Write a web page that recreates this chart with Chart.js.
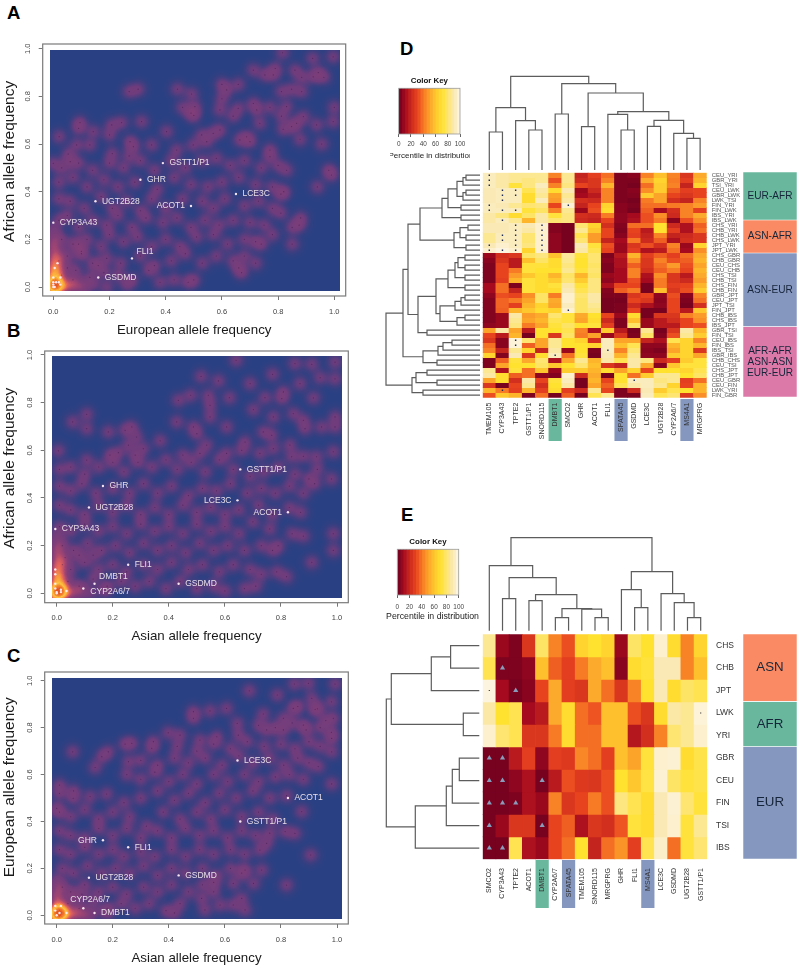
<!DOCTYPE html>
<html><head><meta charset="utf-8">
<style>html,body{margin:0;padding:0;background:#fff;width:800px;height:968px;overflow:hidden}
.letter{position:absolute;font:bold 18.5px "Liberation Sans",Arial,sans-serif;color:#000;line-height:20px}</style>
<script src="https://cdn.jsdelivr.net/npm/chart.js@4"></script>
</head><body>
<div class="letter" style="left:7px;top:3px">A</div>
<div class="letter" style="left:7px;top:321px">B</div>
<div class="letter" style="left:7px;top:646px">C</div>
<div class="letter" style="left:400px;top:39px">D</div>
<div class="letter" style="left:401px;top:505px">E</div>
<script>
// ---------- scatter data (allele frequency) ----------
const tickValues=[0,0.2,0.4,0.6,0.8,1.0];
const denseA=[[.816,.983],[.923,.959],[.996,.966],[.712,.91],[.79,.917],[.86,.91],[.753,.89],[.783,.89],[.884,.88],[.925,.882],[.943,.9],[.963,.88],[.27,.82],[.302,.83],[.442,.83],[.492,.81],[.6,.85],[.617,.827],[.658,.85],[.6,.79],[.812,.82],[.848,.83],[.884,.82],[.46,.754],[.504,.757],[.5,.72],[.49,.73],[.593,.743],[.658,.75],[.64,.717],[.712,.77],[.724,.743],[.771,.754],[.83,.757],[.812,.717],[1,.754],[.996,.694],[.89,.715],[.866,.687],[.848,.673],[.937,.68],[.735,.687],[.818,.662],[.878,.62],[.955,.6],[.095,.69],[.09,.666],[.208,.68],[.243,.69],[.314,.694],[.2,.638],[.142,.652],[.021,.631],[.403,.652],[.593,.659],[.569,.645],[.528,.638],[.546,.61],[.664,.617],[.7,.61],[.688,.63],[.771,.575],[.771,.547],[.083,.596],[.13,.596],[.285,.589],[.35,.596],[.273,.61],[.439,.575],[.498,.596],[.053,.558],[0,.519],[.06,.526],[.21,.56],[.27,.55],
[.03,.5],[.09,.52],[.14,.49],[.2,.52],[.25,.5],[.31,.53],[.36,.49],[.42,.53],[.47,.5],[.53,.53],[.58,.54],[.63,.51],[.68,.53],[.74,.5],[.8,.51],[.83,.49],[.98,.49],[.99,.47],[.94,.42],
[.02,.44],[.07,.46],[.12,.42],[.18,.45],[.23,.42],[.29,.44],[.37,.41],[.43,.46],[.49,.43],[.55,.42],[.6,.44],[.66,.46],[.72,.43],[.78,.42],[.81,.39],[.82,.4],
[.02,.37],[.06,.36],[.11,.33],[.17,.38],[.21,.33],[.26,.36],[.31,.32],[.35,.37],[.4,.33],[.46,.37],[.53,.36],[.57,.33],[.61,.37],[.68,.34],[.73,.36],[.78,.33],[.81,.31],
[.02,.28],[.05,.3],[.09,.25],[.14,.28],[.19,.26],[.23,.3],[.28,.25],[.33,.29],[.39,.27],[.44,.29],[.49,.25],[.54,.28],[.59,.26],[.64,.28],[.7,.27],[.75,.26],[.88,.29],[.85,.25],[.875,.26],
[.03,.2],[.07,.18],[.12,.2],[.17,.17],[.2,.22],[.25,.19],[.3,.21],[.35,.17],[.4,.2],[.45,.17],[.51,.21],[.57,.22],[.62,.18],[.68,.2],[.72,.19],[.74,.18],[.85,.18],[.78,.22],
[.02,.11],[.05,.13],[.1,.14],[.14,.1],[.19,.12],[.24,.1],[.31,.13],[.36,.09],[.42,.11],[.47,.14],[.53,.1],[.58,.13],[.64,.11],[.68,.13],[.72,.1],
[.03,.05],[.08,.07],[.13,.04],[.18,.06],[.23,.05],[.28,.03],[.34,.07],[.38,.02],[.43,.03],[.48,.02],[.5,.03],[.67,.06],[.66,.08],[.09,.18],[.1,.15],[.16,.09],[.05,.08],[.07,.03]];
const hotA=[[0,0,8],[.005,.005,3],[.01,.01,3],[.02,0,3],[0,.02,3],[0,.04,3],[.005,.06,3],[0,.08,3],[.01,.1,2],[0,.12,2],[.005,.15,2],[0,.18,2],[.005,.21,1],[0,.24,1],[.02,.03,2],[.03,.01,2],[.05,0,2],[.07,.01,2],[.1,0,2],[.14,.01,1],[.19,0,1],[.26,.01,1],[.02,.07,1],[.025,.13,1]];
const geneNamesA=['GSTT1/P1','GHR','UGT2B28','LCE3C','ACOT1','CYP3A43','FLI1','GSDMD'];
const geneXA=[.39,.31,.15,.65,.49,0,.28,.16];
const geneYA=[.52,.45,.36,.39,.34,.27,.12,.04];
const labelSideA=['r','r','r','r','l','r','ur','r'];
const minorDotsA=[[.015,.1],[.005,.08],[0,.04],[.025,.04],[0,.02],[.01,.02],[.02,.02],[.025,.01],[0,.01],[0,0],[.005,0]];

const denseB=[[.64,.978],[.85,.964],[.91,.961],[.993,.97],[.515,.91],[.77,.919],[.577,.891],[.69,.88],[.868,.88],[.94,.905],[.993,.9],[.916,.82],[.809,.845],[.803,.817],[.743,.821],[.616,.821],[.541,.831],[.478,.831],[.434,.81],[.547,.789],[.547,.74],[.702,.771],[.107,.751],[.057,.719],[.107,.691],[.184,.677],[.268,.698],[.244,.684],[.285,.656],[.369,.64],[.428,.719],[.488,.698],[.5,.67],[.606,.698],[.773,.74],[.844,.754],[.88,.726],[.886,.691],[.945,.698],[.993,.74],[.993,.698],[.737,.677],[.767,.663],[.672,.635],[.006,.598],[.107,.559],[.256,.622],[.309,.607],[.535,.622],[.511,.587],[.606,.587],[.832,.622],[.773,.607],[.725,.587],[.838,.573],[.987,.594],[.927,.573],[.88,.575],[.66,.6],[.45,.58],[.19,.58],[.22,.59],[.28,.58],
[.01,.52],[.05,.53],[.1,.5],[.15,.53],[.2,.55],[.24,.51],[.29,.55],[.34,.53],[.39,.56],[.43,.52],[.48,.55],[.53,.51],[.58,.56],[.63,.52],[.69,.49],[.74,.51],[.79,.53],[.85,.5],[.93,.52],[.98,.48],[.9,.48],
[.01,.45],[.05,.43],[.09,.46],[.14,.42],[.2,.44],[.26,.42],[.31,.46],[.36,.42],[.41,.45],[.47,.41],[.52,.44],[.57,.43],[.62,.46],[.68,.42],[.73,.44],[.78,.42],[.83,.45],[.88,.42],[.92,.46],
[.01,.37],[.05,.35],[.1,.33],[.15,.37],[.2,.34],[.25,.37],[.3,.33],[.35,.36],[.4,.33],[.45,.37],[.5,.34],[.55,.36],[.6,.33],[.65,.35],[.72,.37],[.77,.33],[.83,.36],[.87,.34],
[.01,.28],[.05,.26],[.1,.29],[.15,.26],[.2,.28],[.25,.25],[.3,.29],[.35,.26],[.4,.28],[.45,.25],[.5,.29],[.55,.26],[.6,.28],[.65,.25],[.7,.3],[.76,.27],[.84,.25],[.88,.24],[.987,.25],
[.02,.2],[.06,.18],[.11,.21],[.16,.18],[.21,.2],[.26,.17],[.31,.21],[.36,.18],[.41,.2],[.46,.17],[.51,.21],[.56,.18],[.61,.2],[.67,.18],[.73,.2],[.77,.18],[.79,.2],[.987,.18],
[.02,.12],[.05,.1],[.1,.13],[.15,.1],[.2,.12],[.25,.09],[.31,.12],[.36,.1],[.41,.13],[.47,.1],[.52,.12],[.58,.09],[.63,.12],[.69,.1],[.73,.08],[.91,.13],[.82,.07],[.785,.09],
[.04,.05],[.08,.03],[.13,.06],[.18,.03],[.23,.05],[.28,.03],[.33,.05],[.39,.02],[.44,.05],[.5,.02],[.56,.03],[.6,.01],[.67,.02],[.71,.03],[.08,.16],[.13,.16],[.03,.15]];
const hotB=[[0,0,9],[.005,.005,3],[.01,.01,3],[.02,0,3],[0,.02,3],[0,.04,3],[.005,.06,3],[0,.08,3],[.005,.1,2],[0,.12,2],[.005,.15,2],[0,.18,2],[.005,.21,1],[0,.24,1],[.02,.03,2],[.03,.01,2],[.05,0,2],[.08,.01,2],[.12,0,1],[.17,.01,1],[.02,.07,1],[.02,.13,1]];
const geneNamesB=['GSTT1/P1','GHR','UGT2B28','LCE3C','ACOT1','CYP3A43','FLI1','DMBT1','GSDMD','CYP2A6/7'];
const geneXB=[.655,.165,.115,.645,.825,-.005,.255,.135,.435,.095];
const geneYB=[.52,.45,.36,.39,.34,.27,.12,.04,.04,.02];
const labelSideB=['r','r','r','l','l','r','r','ur','r','dr'];
const minorDotsB=[[-.005,.1],[-.005,.08],[-.005,.04],[-.005,.02],[.015,.015],[.035,.01],[.015,.005],[0,.005],[0,0]];

const denseC=[[.848,.986],[.898,.989],[.993,.986],[.687,.957],[.787,.939],[.91,.925],[.488,.868],[.488,.84],[.547,.871],[.606,.882],[.737,.858],[.809,.84],[.844,.882],[.922,.878],[.987,.84],[.644,.818],[.398,.778],[.44,.768],[.511,.747],[.571,.761],[.648,.768],[.749,.79],[.809,.79],[.88,.811],[.981,.754],[.981,.697],[.345,.74],[.339,.712],[.244,.73],[.268,.733],[.184,.697],[.161,.676],[.057,.697],[.137,.63],[.256,.655],[.933,.634],[.981,.56],[.874,.442],[.815,.357],[.85,.349],[.906,.257],[.82,.129],[.731,.193],[.672,.193],[.702,.136],[.63,.136],[.66,.072],[.583,.044],[.529,.023],[.63,.044],[.672,.023],[.517,.072],[.749,.307],[.725,.278],[.01,.555],[.01,.52],[.059,.499],[.119,.506],[.178,.517],[0,.456],
[.06,.53],[.24,.48],[.3,.5],[.36,.53],[.42,.49],[.47,.52],[.53,.48],[.58,.52],[.64,.5],[.7,.53],[.76,.5],[.82,.51],
[.25,.6],[.3,.58],[.35,.61],[.4,.57],[.45,.6],[.5,.56],[.56,.6],[.61,.57],[.67,.6],[.72,.57],[.78,.59],[.83,.6],[.88,.58],
[.3,.66],[.36,.64],[.42,.67],[.47,.65],[.53,.67],[.59,.64],[.65,.68],[.7,.65],[.76,.67],[.81,.64],[.86,.67],[.9,.65],
[.43,.72],[.5,.7],[.56,.73],[.62,.71],[.68,.74],[.74,.72],[.8,.73],[.85,.71],[.9,.74],[.94,.72],
[.72,.81],[.78,.8],[.84,.82],[.89,.79],[.94,.8],[.98,.78],[.86,.89],[.93,.88],[.98,.91],[.96,.83],
[.01,.44],[.05,.42],[.1,.45],[.15,.41],[.2,.44],[.26,.42],[.32,.38],[.38,.44],[.44,.41],[.5,.44],[.55,.41],[.6,.45],[.66,.42],[.72,.44],[.77,.41],
[.01,.36],[.05,.34],[.1,.33],[.15,.37],[.2,.34],[.25,.37],[.3,.33],[.36,.36],[.41,.33],[.46,.37],[.51,.34],[.56,.36],[.61,.33],[.66,.36],[.71,.34],[.76,.35],
[.01,.28],[.05,.26],[.1,.29],[.15,.26],[.2,.28],[.24,.25],[.3,.27],[.35,.25],[.41,.28],[.46,.25],[.51,.28],[.56,.26],[.62,.28],[.67,.26],
[.02,.2],[.06,.18],[.11,.21],[.16,.18],[.21,.2],[.26,.18],[.31,.21],[.36,.17],[.41,.2],[.46,.18],[.52,.2],[.57,.17],[.62,.2],[.66,.18],
[.02,.12],[.05,.1],[.1,.13],[.15,.1],[.2,.12],[.25,.09],[.31,.12],[.36,.1],[.41,.13],[.47,.1],[.52,.13],[.56,.1],[.56,.14],
[.04,.05],[.08,.03],[.13,.06],[.18,.03],[.23,.05],[.28,.03],[.33,.05],[.39,.02],[.44,.05],[.42,.01],[.06,.08],[.09,.09]];
const hotC=[[0,0,9],[.005,.005,3],[.01,.01,3],[.02,0,3],[0,.02,3],[0,.04,2],[.005,.06,2],[0,.09,2],[.005,.12,1],[0,.15,1],[.02,.03,2],[.03,.01,3],[.05,0,2],[.07,.01,2],[.1,0,2],[.13,.01,1],[.18,.01,1]];
const geneNamesC=['LCE3C','ACOT1','GSTT1/P1','GHR','FLI1','UGT2B28','GSDMD','CYP2A6/7','DMBT1'];
const geneXC=[.645,.825,.655,.165,.255,.115,.435,.095,.135];
const geneYC=[.66,.50,.40,.32,.29,.16,.17,.03,.01];
const labelSideC=['r','r','r','l','r','r','r','ul','r'];
const minorDotsC=[[-.005,.04],[-.005,.02],[.015,.04],[.01,.01],[.035,.01],[0,0]];

// ---------- heatmap D ----------
const genesD=['TMEM105','CYP3A43','TPTE2','GSTT1/P1','SNORD115','DMBT1','SMCO2','GHR','ACOT1','FLI1','SPATA45','GSDMD','LCE3C','UGT2B28','CYP2A6/7','MS4A1','MRGPRG'];
const pairsD=['CEU_YRI','GBR_YRI','TSI_YRI','CEU_LWK','GBR_LWK','LWK_TSI','FIN_YRI','FIN_LWK','IBS_YRI','IBS_LWK','CHS_YRI','CHB_YRI','CHB_LWK','CHS_LWK','JPT_YRI','JPT_LWK','CHS_GBR','CHB_GBR','CEU_CHS','CEU_CHB','CHS_TSI','CHB_TSI','CHS_FIN','CHB_FIN','GBR_JPT','CEU_JPT','JPT_TSI','FIN_JPT','CHB_IBS','CHS_IBS','IBS_JPT','GBR_TSI','FIN_TSI','CEU_IBS','FIN_IBS','IBS_TSI','GBR_IBS','CHB_CHS','CEU_TSI','CHS_JPT','CHB_JPT','CEU_GBR','CEU_FIN','LWK_YRI','FIN_GBR'];
const valuesD=[
[92,88,85,85,85,42,85,18,28,38,3,5,42,58,42,25,52],
[92,88,85,82,85,32,85,20,25,42,3,3,52,65,40,28,55],
[92,88,72,82,92,42,82,30,25,55,3,2,38,62,42,18,65],
[90,92,92,75,88,68,90,8,20,42,3,5,45,62,35,28,30],
[90,92,92,68,85,50,85,10,15,42,3,4,62,50,30,25,30],
[90,92,92,68,92,48,88,22,20,42,3,2,40,50,22,18,42],
[92,90,85,80,82,30,96,18,30,65,5,3,38,38,40,42,48],
[92,92,92,72,78,42,85,8,32,68,5,2,35,10,22,42,28],
[88,82,68,78,88,72,82,22,20,40,6,10,32,45,20,42,52],
[88,92,85,55,88,80,82,20,18,30,6,12,32,40,5,32,45],
[90,90,92,90,95,4,2,80,65,22,4,38,38,70,20,12,35],
[90,90,92,88,95,4,2,85,60,30,3,30,15,70,28,12,38],
[85,92,92,80,95,6,2,75,48,30,5,28,18,42,18,20,25],
[85,92,92,80,95,6,2,80,48,18,10,40,20,35,12,22,25],
[90,95,92,82,95,6,2,90,72,32,8,25,32,22,42,8,65],
[95,98,95,65,95,6,2,88,75,30,8,28,12,15,38,10,45],
[8,22,25,78,82,58,86,72,80,3,15,55,28,35,28,38,52],
[5,25,15,58,78,68,85,70,80,5,12,45,25,42,32,35,55],
[3,30,15,72,72,68,82,70,78,3,12,35,25,38,48,32,50],
[3,30,40,72,70,70,85,72,80,3,10,42,22,35,40,30,55],
[3,30,48,60,68,55,78,55,78,8,10,42,12,45,25,15,52],
[3,28,55,72,68,62,80,62,82,6,10,32,10,40,25,20,48],
[10,38,3,72,68,72,88,72,82,12,30,30,2,40,28,30,55],
[10,38,18,72,68,68,90,75,82,4,35,40,2,58,25,32,62],
[6,32,30,45,78,40,95,80,88,3,3,25,30,6,32,5,42],
[4,36,40,50,78,52,95,78,88,2,2,30,25,5,30,3,38],
[4,36,28,55,65,50,92,78,85,2,3,20,12,6,30,2,22],
[4,35,55,60,68,65,95,78,82,2,3,30,2,2,30,15,60],
[4,8,88,48,52,80,72,52,70,30,8,68,2,25,25,42,48],
[4,8,85,50,55,75,72,50,68,20,3,58,8,15,22,30,45],
[6,8,82,40,50,72,78,70,72,28,3,78,8,15,15,30,32],
[50,88,50,15,70,70,75,42,12,62,15,2,85,2,25,88,55],
[30,15,55,2,70,25,78,40,50,8,25,3,78,4,32,85,62],
[25,5,97,80,50,85,70,65,22,92,50,50,18,12,75,65,42],
[38,5,97,35,50,85,70,70,65,92,58,75,6,6,55,65,55],
[42,18,85,65,18,88,8,70,3,92,42,80,5,3,50,65,25],
[65,4,90,25,68,92,38,72,2,90,55,85,6,6,62,65,50],
[3,35,72,52,80,12,52,85,55,88,75,88,82,20,28,62,72],
[3,50,70,70,78,60,70,80,58,25,18,88,52,5,60,72,72],
[85,12,72,38,60,8,62,62,55,68,50,65,30,70,70,65,75],
[88,68,35,38,6,4,95,20,52,2,70,38,62,85,85,70,78],
[50,68,22,88,30,72,92,2,55,30,70,92,92,82,85,28,38],
[25,2,30,85,22,70,88,2,50,35,75,88,92,85,65,30,55],
[55,40,28,55,28,68,28,20,85,30,3,20,90,62,75,70,55],
[32,60,55,3,38,2,35,2,75,85,3,3,92,75,80,25,45]];
const dotsD=[[0,0],[1,0],[2,0],[6,0],[7,0],[14,0],[15,0],[3,1],[4,1],[5,1],[7,1],[9,1],[12,1],[13,1],[15,1],[43,1],[3,2],[4,2],[7,2],[10,2],[11,2],[12,2],[13,2],[14,2],[15,2],[33,2],[34,2],[10,4],[11,4],[12,4],[13,4],[14,4],[15,4],[36,5],[6,6],[27,6],[35,9],[41,11]];
const highlightD=[['DMBT1','#69b89e'],['SPATA45','#8597bf'],['MS4A1','#8597bf']];
const colTreeD=[93.7,[62.3,[38,0,1],[49.3,2,[40,3,4]]],[86.3,[56,5,6],[77,[43.3,7,8],[58.3,[55.7,9,[40,10,11]],[49.7,[43.7,12,13],[36.7,14,[31.7,15,16]]]]]]];
const rowTreeD=[94,[77,[72,[60,[38,[32,[23,[17,[14,0,1],2],[17,[14,3,4],5]],[19,6,7]],[19,8,9]],[26,[20,[12,10,11],[14,12,13]],[14,14,15]]],[62,[44,[32,[25,[22,[15,16,17],[15,18,19]],[15,20,21]],[15,22,23]],[40,[25,[19,[15,24,25],26],27],[23,[15,28,29],30]]],[53,31,32]]],[57,[42,[37,[28,33,34],35],36],[43,37,38]]],[68,[64,[53,39,40],[43,41,42]],[57,43,44]]];
const groupNamesD=['EUR-AFR','ASN-AFR','ASN-EUR','AFR-AFR\nASN-ASN\nEUR-EUR'];
const groupSpansD=[48,33,73.5,70.5];
const groupColorsD=['#69b89e','#f98a63','#8597bf','#dd79a8'];

// ---------- heatmap E ----------
const genesE=['SMCO2','CYP3A43','TPTE2','ACOT1','DMBT1','CYP2A6/7','SPATA45','TMEM105','SNORD115','MRGPRG','GHR','FLI1','MS4A1','LCE3C','GSDMD','UGT2B28','GSTT1/P1'];
const popsE=['CHS','CHB','JPT','LWK','YRI','GBR','CEU','FIN','TSI','IBS'];
const valuesE=[
[85,8,3,25,78,42,32,65,70,65,8,78,70,95,68,42,65],
[75,3,3,6,58,35,28,40,52,58,5,68,72,90,90,42,58],
[98,10,2,5,30,52,28,25,52,38,25,42,70,90,68,78,75],
[88,70,75,10,15,52,68,38,33,58,58,32,25,68,88,85,97],
[95,80,75,25,25,40,68,38,38,58,58,14,22,42,80,85,95],
[2,2,15,28,6,28,26,43,38,28,58,50,72,95,96,68,74],
[2,2,6,12,2,15,32,26,25,32,70,60,73,96,78,72,74],
[2,2,3,12,8,42,25,30,40,32,82,75,68,90,96,80,72],
[2,8,25,25,2,30,35,12,25,22,33,72,68,90,95,72,85],
[2,2,75,12,8,30,38,70,18,38,46,28,75,94,38,72,80]];
const trianglesE=[[1,1],[2,2],[5,0],[5,1],[6,0],[6,1],[6,4],[7,0],[7,1],[7,2],[8,0],[8,4],[9,0],[9,1]];
const smallDotsE=[[2,0],[3,16]];
const highlightE=[['DMBT1','#69b89e'],['SPATA45','#8597bf'],['MS4A1','#8597bf']];
const colTreeE=[93,[65,0,[53,[32,1,2],[36,[30,3,4],[22,[13,5,6],[21.5,7,[13,8,9]]]]]],[59,[41,10,[23,11,12]],[37,13,[28,14,[13,15,16]]]]];
const rowTreeE=[93,[88,[48,[28.7,0,1],2],[16,3,4]],[64,[33,[27,[20,5,6],7],8],9]];
const groupNamesE=['ASN','AFR','EUR'];
const groupSpansE=[67.3,45,112.5];
const groupColorsE=['#f98a63','#69b89e','#8597bf'];
const keyBins=[0,5,10,15,20,25,30,35,40,45,50,55,60,65,70,75,80,85,90,95];
const keyTicks=[0,20,40,60,80,100];

// ---------- helpers ----------
const FONT='"Liberation Sans",Arial,sans-serif';
Chart.defaults.font.family=FONT;
Chart.defaults.animation=false;
Chart.defaults.responsive=false;
Chart.defaults.plugins.legend.display=false;
Chart.defaults.plugins.tooltip.enabled=false;
Chart.defaults.events=[];
function mk(l,t,w,h){const c=document.createElement('canvas');c.width=w;c.height=h;c.style.cssText=`position:absolute;left:${l}px;top:${t}px;width:${w}px;height:${h}px`;document.body.appendChild(c);return c;}
const heatStops=[[0,[108,0,32]],[10,[165,10,30]],[20,[204,42,30]],[30,[232,67,31]],[40,[247,122,37]],[50,[252,163,42]],[60,[254,199,46]],[70,[255,225,47]],[80,[254,229,114]],[90,[250,233,180]],[100,[253,247,232]]];
function heat(v){for(let i=1;i<heatStops.length;i++){if(v<=heatStops[i][0]){const [a,ca]=heatStops[i-1],[b,cb]=heatStops[i],t=(v-a)/(b-a);return `rgb(${ca.map((c,k)=>Math.round(c+(cb[k]-c)*t)).join(',')})`;}}return 'rgb(253,247,232)';}
const densStops=[[0,[41,64,130]],[.06,[65,62,128]],[.17,[110,60,124]],[.35,[130,62,120]],[.5,[165,70,113]],[.66,[228,98,92]],[.78,[250,160,60]],[.87,[253,195,65]],[.94,[240,110,40]],[1,[190,20,30]]];
const densLUT=[];for(let a=0;a<256;a++){const f=a/255;let i=1;while(i<densStops.length-1&&f>densStops[i][0])i++;const [p,cp]=densStops[i-1],[q,cq]=densStops[i],t=Math.min(1,(f-p)/(q-p));densLUT.push(cp.map((c,k)=>Math.round(c+(cq[k]-c)*t)));}
const sprite=document.createElement('canvas');sprite.width=sprite.height=34;
{const g=sprite.getContext('2d'),im=g.createImageData(34,34);for(let y=0;y<34;y++)for(let x=0;x<34;x++){const d=(x-16.5)**2+(y-16.5)**2;im.data[4*(y*34+x)+3]=Math.round(255*.17*Math.exp(-d/(2*5.3*5.3)));}g.putImageData(im,0,0);}

function scatterPanel(o){
  const c=mk(0,o.top,372,o.h);
  const sx=o.x1-o.x0, sy=o.y0-o.y1;
  const xmin=-(o.x0-o.f.l)/sx, xmax=1+(o.f.r-o.x1)/sx;
  const ymin=-(o.f.b-o.y0)/sy, ymax=1+(o.y1-o.f.t)/sy;
  const dense=[];o.dense.forEach(p=>dense.push({x:p[0],y:p[1]}));
  o.hot.forEach(p=>{for(let i=0;i<p[2];i++)dense.push({x:p[0],y:p[1]});});
  const genes=o.names.map((n,i)=>({x:o.gx[i],y:o.gy[i]}));
  const minor=o.minor.map(p=>({x:p[0],y:p[1]}));
  const titleFont=13.3,yFont=15.5;
  const scale=(text,size)=>({display:true,text,font:{size},color:'#1a1a1a'});
  new Chart(c,{type:'scatter',data:{datasets:[
    {data:genes.concat(minor),pointRadius:1.2,pointBackgroundColor:'rgba(255,238,245,.95)',pointBorderWidth:0},
    {data:o.dense.map(p=>({x:p[0],y:p[1]})),pointRadius:.6,pointBackgroundColor:'rgba(40,8,60,.4)',pointBorderWidth:0},
    {data:dense,pointRadius:16,pointStyle:sprite,pointBorderWidth:0}
  ]},options:{
    layout:{padding:{top:o.f.t-o.top,right:372-o.f.r,left:0,bottom:0}},
    scales:{
      x:{type:'linear',min:xmin,max:xmax,afterFit:s=>{s.height=o.top+o.h-o.f.b;},afterBuildTicks:s=>{s.ticks=tickValues.map(value=>({value}));},
        grid:{drawOnChartArea:false,tickLength:4,color:'#777',tickWidth:1},border:{display:false},
        ticks:{padding:7,color:'#444',font:{size:7.5},minRotation:0,maxRotation:0,autoSkip:false,callback:v=>v.toFixed(1)},
        title:Object.assign(scale(o.xTitle,titleFont),{padding:{top:0,bottom:o.top+o.h-o.xTitleY-titleFont*.6}})},
      y:{type:'linear',min:ymin,max:ymax,afterFit:s=>{s.width=o.f.l;},afterBuildTicks:s=>{s.ticks=tickValues.map(value=>({value}));},
        grid:{drawOnChartArea:false,tickLength:4,color:'#777',tickWidth:1},border:{display:false},
        ticks:{padding:5.7,color:'#444',font:{size:7.5},minRotation:90,maxRotation:90,crossAlign:'center',autoSkip:false,callback:v=>v.toFixed(1)},
        title:Object.assign(scale(o.yTitle,yFont),{padding:{top:.7,bottom:0}})}
    }
  },plugins:[{id:'densityMap',
    afterDatasetDraw(ch,args){
      if(args.index!==2)return;
      const g=ch.ctx,a=ch.chartArea,L=Math.floor(a.left),T=Math.floor(a.top),W=Math.ceil(a.right)-L,H=Math.ceil(a.bottom)-T;
      const im=g.getImageData(L,T,W,H),d=im.data;
      for(let y=0;y<H;y++)for(let x=0;x<W;x++){
        const i=4*(y*W+x),px=L+x,py=T+y+o.top;
        if(px<o.blue.l||px>=o.blue.r||py<o.blue.t||py>=o.blue.b){d[i+3]=0;continue;}
        const col=densLUT[d[i+3]];d[i]=col[0];d[i+1]=col[1];d[i+2]=col[2];d[i+3]=255;
      }
      g.putImageData(im,L,T);
    },
    afterDraw(ch){
      const g=ch.ctx,a=ch.chartArea,X=ch.scales.x,Y=ch.scales.y;
      g.save();g.strokeStyle='#7a7a7a';g.lineWidth=1.2;g.strokeRect(a.left,a.top,a.right-a.left,a.bottom-a.top);
      g.font='8.5px '+FONT;g.fillStyle='#eadfe9';g.textBaseline='middle';
      o.names.forEach((n,i)=>{
        const px=X.getPixelForValue(o.gx[i]),py=Y.getPixelForValue(o.gy[i]),s=o.sides[i];
        let dx=6.5,dy=0,al='left';
        if(s==='l'){dx=-6;al='right';}
        if(s==='ur'){dx=4.5;dy=-6.8;}
        if(s==='dr'){dx=7;dy=2.7;}
        if(s==='ul'){dx=-13;dy=-9;}
        g.textAlign=al;g.fillText(n,px+dx,py+dy);
      });
      g.restore();
    }}]});
}
scatterPanel({top:0,h:340,f:{l:42.7,t:44,r:345.7,b:296},x0:53.3,x1:334.3,y0:287,y1:48.7,blue:{l:49.3,t:49.3,r:339.3,b:290.7},dense:denseA,hot:hotA,names:geneNamesA,gx:geneXA,gy:geneYA,sides:labelSideA,minor:minorDotsA,xTitle:'European allele frequency',yTitle:'    African allele frequency',xTitleY:330.7});
scatterPanel({top:335,h:310,f:{l:44.7,t:350.7,r:348.3,b:602.7},x0:56.7,x1:337,y0:593.3,y1:354.7,blue:{l:51.3,t:356,r:341.3,b:597.3},dense:denseB,hot:hotB,names:geneNamesB,gx:geneXB,gy:geneYB,sides:labelSideB,minor:minorDotsB,xTitle:'Asian allele frequency',yTitle:'    African allele frequency',xTitleY:636.7});
scatterPanel({top:650,h:318,f:{l:44.7,t:672,r:348.3,b:924},x0:56.7,x1:337,y0:915.3,y1:680.7,blue:{l:51.3,t:677.7,r:341.3,b:918.7},dense:denseC,hot:hotC,names:geneNamesC,gx:geneXC,gy:geneYC,sides:labelSideC,minor:minorDotsC,xTitle:'Asian allele frequency',yTitle:'     European allele frequency',xTitleY:958});

function dendro(tree,o){
  const segs=[];
  (function walk(n){if(typeof n==='number')return{pos:n+(o.horizontal?0.5:0),h:0};const a=walk(n[1]),b=walk(n[2]);segs.push([[a.pos,a.h],[a.pos,n[0]],[b.pos,n[0]],[b.pos,b.h]]);return{pos:(a.pos+b.pos)/2,h:n[0]};})(tree);
  const c=mk(o.l,o.t,o.w,o.h);
  new Chart(c,{type:'scatter',data:{datasets:segs.map(s=>({data:s.map(p=>o.horizontal?{x:p[1],y:p[0]}:{x:p[0],y:p[1]}),showLine:true,pointRadius:0,borderColor:'#5c5c5c',borderWidth:1.2,tension:0,clip:false}))},
    options:{layout:{padding:o.pad},scales:o.scales}});
}
dendro(colTreeD,{l:480,t:60,w:230,h:110,pad:{left:2.7,right:3.3,top:10,bottom:0},scales:{x:{type:'linear',display:false,min:-.5,max:16.5},y:{type:'linear',display:false,min:0,max:100}}});
dendro(rowTreeD,{horizontal:true,l:375,t:170,w:106,h:230,pad:{left:0,right:1,top:2.7,bottom:2.3},scales:{x:{type:'linear',display:false,min:0,max:105,reverse:true},y:{type:'linear',display:false,min:0,max:45,reverse:true}}});
dendro(colTreeE,{l:480,t:520,w:230,h:111,pad:{left:2.7,right:2.7,top:10.7,bottom:.3},scales:{x:{type:'linear',display:false,min:-.5,max:16.5},y:{type:'linear',display:false,min:0,max:100}}});
dendro(rowTreeE,{horizontal:true,l:378,t:630,w:103,h:232,pad:{left:2,right:1.7,top:4.3,bottom:2.7},scales:{x:{type:'linear',display:false,min:0,max:99.3,reverse:true},y:{type:'linear',display:false,min:0,max:10,reverse:true}}});

function heatmap(o){
  const c=mk(o.l,o.t,o.w,o.h);
  const n=o.rows.length;
  const ds=o.rows.map((r,ri)=>({type:'bar',data:o.cols.map(()=>[ri,ri+1]),backgroundColor:o.values[ri].map(heat),borderWidth:0,barPercentage:1,categoryPercentage:1,grouped:false}));
  o.marks.forEach(m=>ds.push({type:'scatter',order:-1,data:m.cells.map(e=>({x:o.cols[e[1]],y:e[0]+.5})),pointStyle:m.style,pointRadius:m.r,pointBackgroundColor:m.color,pointBorderWidth:0,showLine:false}));
  new Chart(c,{data:{labels:o.cols,datasets:ds},options:{
    layout:{padding:{left:o.f.l-o.l,top:o.f.t-o.t,right:0,bottom:0}},
    scales:{
      x:{type:'category',labels:o.cols,afterFit:s=>{s.height=o.t+o.h-o.f.b;},grid:{display:false,drawTicks:false},border:{display:false},
        ticks:{autoSkip:false,minRotation:90,maxRotation:90,padding:o.xPad,color:'#333',font:{size:7}}},
      y:{type:'linear',position:'right',reverse:true,min:0,max:n,afterFit:s=>{s.width=o.l+o.w-o.f.r;},afterBuildTicks:s=>{s.ticks=o.rows.map((_,i)=>({value:i+.5}));},grid:{display:false,drawTicks:false},border:{display:false},
        ticks:{autoSkip:false,padding:o.yPad,color:o.yColor,font:{size:o.ySize},callback:v=>o.rows[Math.floor(v)]}}
    }},plugins:[{id:'highlight',beforeDraw(ch){
      const g=ch.ctx,X=ch.scales.x,w=X.width/o.cols.length;
      o.highlight.forEach(h=>{g.fillStyle=h[1];g.fillRect(X.getPixelForValue(o.cols.indexOf(h[0]))-w/2,ch.chartArea.bottom+o.hTop,w,o.hLen);});
    }}]});
}
heatmap({l:470,t:160,w:270,h:290,f:{l:482.7,t:172.7,r:706.7,b:397.7},rows:pairsD,cols:genesD,values:valuesD,xPad:5,yPad:5,yColor:'#555',ySize:5.9,highlight:highlightD,hTop:1.3,hLen:42,
  marks:[{cells:dotsD,style:'rect',r:1,color:'#1d2a55'}]});
heatmap({l:470,t:620,w:270,h:300,f:{l:482.7,t:634.3,r:707.3,b:859.3},rows:popsE,cols:genesE,values:valuesE,xPad:8.7,yPad:8.7,yColor:'#333',ySize:8.5,highlight:highlightE,hTop:.7,hLen:48,
  marks:[{cells:trianglesE,style:'triangle',r:3,color:'#8a9cbc'},{cells:smallDotsE,style:'rect',r:.8,color:'#333'}]});

function sidebar(o){
  const c=mk(o.l,o.t,o.w,o.h);
  new Chart(c,{type:'bar',data:{labels:[''],datasets:o.spans.map((s,i)=>({data:[s],backgroundColor:o.colors[i],borderColor:'#fff',borderWidth:.6,borderSkipped:false,barPercentage:1,categoryPercentage:1,stack:'g'}))},
    options:{scales:{x:{display:false,stacked:true},y:{display:false,stacked:true,reverse:true,min:0,max:o.spans.reduce((a,b)=>a+b,0)}}},
    plugins:[{id:'groupText',afterDraw(ch){const g=ch.ctx;g.save();g.textAlign='center';g.textBaseline='middle';g.fillStyle='#16253a';g.font=o.size+'px '+FONT;
      o.names.forEach((t,i)=>{const b=ch.getDatasetMeta(i).data[0],cy=(b.base+b.y)/2,ls=t.split('\n');ls.forEach((s,k)=>g.fillText(s,ch.width/2,cy+(k-(ls.length-1)/2)*o.lead));});g.restore();}}]});
}
sidebar({l:743,t:172,w:54,h:225,spans:groupSpansD,colors:groupColorsD,names:groupNamesD,size:10.1,lead:11});
sidebar({l:743,t:634,w:54,h:225,spans:groupSpansE,colors:groupColorsE,names:groupNamesE,size:13.3,lead:14});

function colorKey(o){
  const c=mk(o.l,o.t,o.w,o.h);
  new Chart(c,{type:'bar',data:{labels:[''],datasets:keyBins.map(b=>({data:[[b,b+5]],backgroundColor:heat(b+2.5),borderWidth:0,barPercentage:1,categoryPercentage:1,grouped:false}))},options:{
    indexAxis:'y',layout:{padding:{left:o.f.l-o.l,right:o.l+o.w-o.f.r,top:0,bottom:0}},
    plugins:{title:{display:true,fullSize:false,text:'Color Key',color:'#111',font:{size:7.9,weight:'bold'},padding:{top:o.tt,bottom:o.f.t-o.t-o.tt-9.5}}},
    scales:{y:{display:false},
      x:{type:'linear',position:'bottom',min:0,max:100,afterFit:s=>{s.height=o.t+o.h-o.f.b;},afterBuildTicks:s=>{s.ticks=keyTicks.map(value=>({value}));},
        grid:{drawOnChartArea:false,tickLength:3,color:'#666'},border:{display:false},
        ticks:{padding:o.tp,color:'#444',font:{size:6.4},minRotation:0,maxRotation:0,autoSkip:false}}}
  },plugins:[{id:'keyFrame',afterDraw(ch){const g=ch.ctx,a=ch.chartArea;g.save();g.strokeStyle='#9a9a9a';g.lineWidth=.8;g.strokeRect(a.left,a.top,a.right-a.left,a.bottom-a.top);
    g.fillStyle='#222';g.font=o.ls+'px '+FONT;g.textAlign='center';g.textBaseline='middle';g.fillText('Percentile in distribution',o.lx-o.l,o.ly-o.t);g.restore();}}]});
}
colorKey({l:390,t:70,w:80,h:95,f:{l:398.7,r:460,t:88.3,b:134},tt:6,tp:3.85,ls:8,lx:431,ly:156});
colorKey({l:380,t:530,w:105,h:95,f:{l:397.3,r:458.7,t:549.3,b:595},tt:6.95,tp:4.9,ls:8.76,lx:432.5,ly:616.7});
</script>
</body></html>
